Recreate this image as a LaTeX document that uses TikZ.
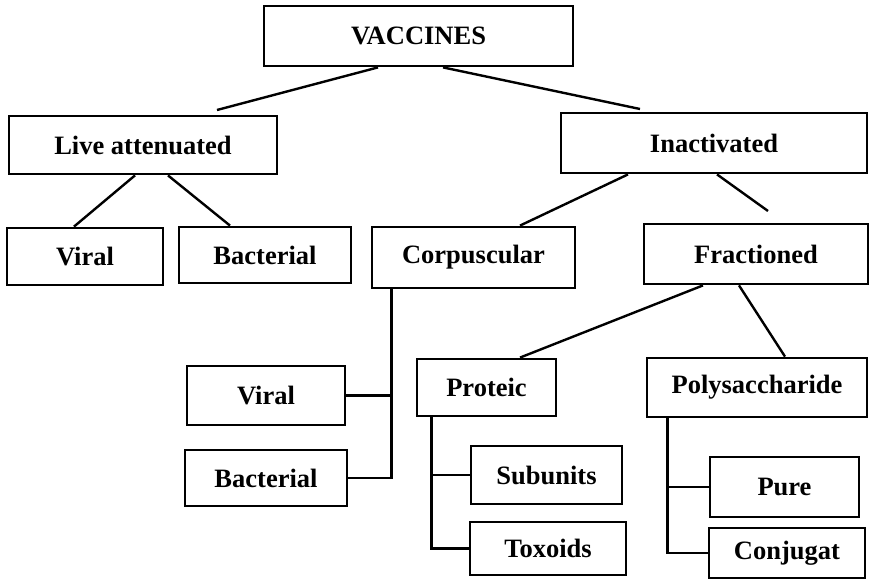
\documentclass[tikz,border=0pt]{standalone}
\usepackage{fontspec}
\setmainfont{Liberation Serif}
\usetikzlibrary{calc}
\tikzset{
  bx/.style={draw=black, line width=2.8pt, fill=white, inner sep=0pt,
    font=\fontsize{26.5}{30}\selectfont\bfseries, text=black},
  ln/.style={draw=black, line width=2.4pt}
}
\newcommand{\mybox}[6]{%
  \node[bx, minimum width=#4pt, minimum height=#5pt] (#1) at (#2,#3) {#6};}
\begin{document}
\begin{tikzpicture}[x=1pt,y=-1pt]
\useasboundingbox[fill=white] (0,0) rectangle (871,580);
% boxes
\mybox{vac}{418.5}{36}{309}{60}{VACCINES}
\mybox{live}{143}{145}{268}{58}{Live attenuated}
\mybox{inact}{714}{143}{306}{60}{Inactivated}
\mybox{viralA}{85}{256.5}{156}{57}{Viral}
\mybox{bactA}{265}{255}{172}{56}{Bacterial}
\mybox{corp}{473.5}{257.5}{203}{61}{Corpuscular}
\mybox{frac}{756}{254}{224}{60}{Fractioned}
\mybox{viralB}{266}{395.5}{158}{59}{Viral}
\mybox{bactB}{266}{478}{162}{56}{Bacterial}
\mybox{prot}{486.5}{387.5}{139}{57}{Proteic}
\mybox{poly}{757}{387.5}{220}{59}{Polysaccharide}
\mybox{sub}{546.5}{475}{151}{58}{Subunits}
\mybox{tox}{548}{548.5}{156}{53}{Toxoids}
\mybox{pure}{784.5}{487}{149}{60}{Pure}
\mybox{conj}{787}{553}{156}{50}{Conjugat}
% free ends
\coordinate (liveEnd) at (217,110);
\coordinate (inactEnd) at (640,109);
\coordinate (fracEnd) at (768,211);
\coordinate (cv) at ([xshift=21pt]corp.south west);
\coordinate (pv) at ([xshift=16pt]prot.south west);
\coordinate (yv) at ([xshift=22pt]poly.south west);
% connectors
\draw[ln] ([xshift=-40.5pt]vac.south) -- (liveEnd);
\draw[ln] ([xshift=24.5pt]vac.south) -- (inactEnd);
\draw[ln] ([xshift=-8pt]live.south) -- ([xshift=-11pt]viralA.north);
\draw[ln] ([xshift=25pt]live.south) -- ([xshift=-35pt]bactA.north);
\draw[ln] ([xshift=-86pt]inact.south) -- ([xshift=46.5pt]corp.north);
\draw[ln] ([xshift=3pt]inact.south) -- (fracEnd);
\draw[ln] (cv) |- (bactB.east);
\draw[ln] (viralB.east) -- (viralB.east -| cv);
\draw[ln] ([xshift=-53pt]frac.south) -- ([xshift=33.5pt]prot.north);
\draw[ln] ([xshift=-17pt]frac.south) -- ([xshift=28pt]poly.north);
\draw[ln] (pv) |- (tox.west);
\draw[ln] (sub.west) -- (sub.west -| pv);
\draw[ln] (yv) |- (conj.west);
\draw[ln] (pure.west) -- (pure.west -| yv);
\end{tikzpicture}
\end{document}
